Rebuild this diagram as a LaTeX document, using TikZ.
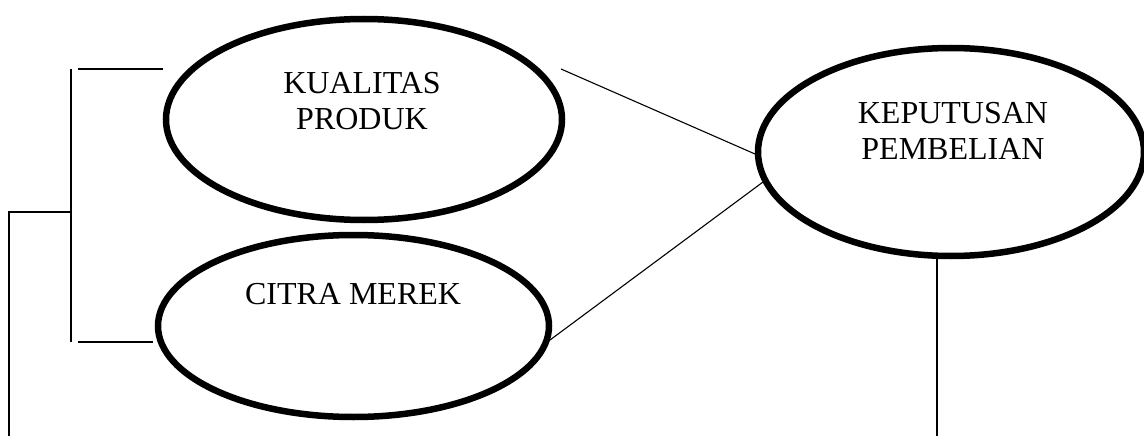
\documentclass[tikz,border=0pt]{standalone}
\usepackage{fontspec}
\setmainfont{Liberation Serif}
\usetikzlibrary{shapes.geometric}
\begin{document}
\begin{tikzpicture}[x=1pt,y=-1pt,
  construct/.style={draw,ellipse,line width=6.5pt,inner sep=0pt},
  label/.style={font=\fontsize{32}{36}\selectfont,align=center,inner sep=0pt,anchor=north},
  link/.style={line width=1.1pt},
  bracket/.style={line width=1.8pt}]
\useasboundingbox (0,0) rectangle (1144,436);

% variables
\node[construct,minimum width=396pt,minimum height=201pt] (kp) at (364,119.5) {};
\node[construct,minimum width=391pt,minimum height=182pt] (cm) at (353.5,326) {};
\node[construct,minimum width=386pt,minimum height=208pt] (kb) at (951,152) {};

\node[label] (kpt) at (362,72) {KUALITAS\\PRODUK};
\node[label] (cmt) at (353,283) {CITRA MEREK};
\node[label] (kbt) at (953,102) {KEPUTUSAN\\PEMBELIAN};

% influence lines towards the decision
\coordinate (kpout) at (561,69);
\coordinate (kbin1) at (755,154);
\coordinate (cmout) at (550,340);
\coordinate (kbin2) at (763,182);
\draw[link] (kpout) -- (kbin1);
\draw[link] (cmout) -- (kbin2);

% bracket joining both independent variables
\coordinate (bt) at (71,69);
\coordinate (bb) at (71,342);
\coordinate (bm) at (71,212);
\coordinate (kpl) at (163,69);
\coordinate (cml) at (153,342);
\coordinate (bt2) at (78,69);
\coordinate (bb2) at (78,342);
\draw[bracket] (bt) -- (bb);
\draw[bracket] (bt2) -- (kpl);
\draw[bracket] (bb2) -- (cml);
\coordinate (ol) at (9,212);
\coordinate (od) at (9,436);
\draw[bracket] (od) -- (ol) -- (bm);

% line down from the decision
\coordinate (kbd) at (937,436);
\draw[bracket] (kb.south -| kbd) -- (kbd);
\end{tikzpicture}
\end{document}
